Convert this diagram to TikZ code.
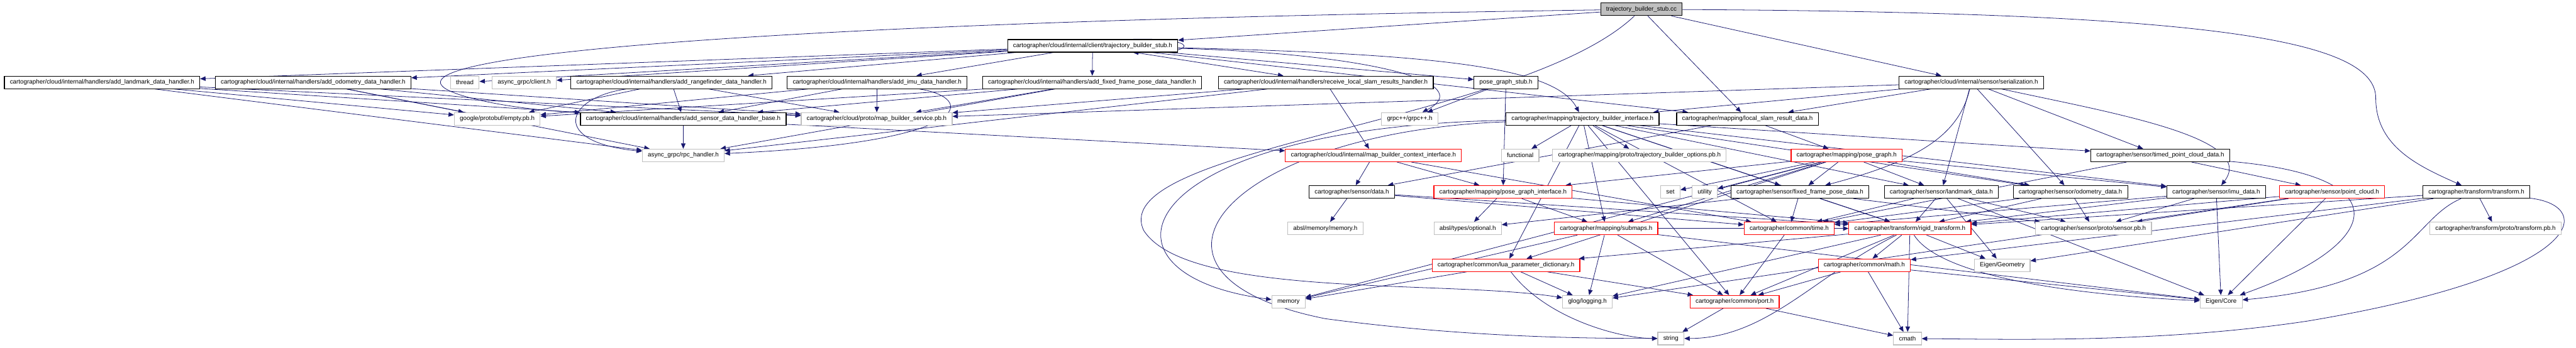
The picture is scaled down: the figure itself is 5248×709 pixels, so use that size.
\documentclass[tikz,border=0pt]{standalone}
\usepackage{fontspec}
\setmainfont{Liberation Sans}
\usetikzlibrary{arrows.meta,calc,backgrounds}
\definecolor{edgeblue}{HTML}{191970}
\definecolor{extgray}{HTML}{BFBFBF}
\tikzset{
  % Base styles
  graph base/.style={
    x=0.5pt, y=-0.5pt,
    every node/.style={font=\fontsize{6.3}{7}\selectfont},
  },
  % File nodes
  file node/.style={rectangle, draw=black, line width=0.75pt, fill=white, inner xsep=5.6pt, inner ysep=0pt, minimum height=12.8pt},
  ext node/.style={file node, draw=extgray},
  trunc node/.style={file node, draw=red},
  root node/.style={file node, fill=extgray},
  % Include edges
  dep/.style={-{Triangle[length=5.5pt,width=4.6pt]}, draw=edgeblue, line width=0.5pt},
}

\begin{document}
\begin{tikzpicture}[graph base]
\useasboundingbox (0,0) rectangle (5248,709);

% Source file
\node[root node] (root) at (3344,19) {trajectory\_builder\_stub.cc};

% Client header
\node[file node] (stubh) at (2226,93.5) {cartographer/cloud/internal/client/trajectory\_builder\_stub.h};

% Handlers layer
\node[file node] (landmarkh) at (208,168) {cartographer/cloud/internal/handlers/add\_landmark\_data\_handler.h};
\node[file node] (odometryh) at (638,168) {cartographer/cloud/internal/handlers/add\_odometry\_data\_handler.h};
\node[ext node] (thread) at (947,168) {thread};
\node[ext node] (client) at (1068,168) {async\_grpc/client.h};
\node[file node] (rangefinderh) at (1368,168) {cartographer/cloud/internal/handlers/add\_rangefinder\_data\_handler.h};
\node[file node] (imuh) at (1787,168) {cartographer/cloud/internal/handlers/add\_imu\_data\_handler.h};
\node[file node] (fixedh) at (2225,168) {cartographer/cloud/internal/handlers/add\_fixed\_frame\_pose\_data\_handler.h};
\node[file node] (receiveh) at (2701,168) {cartographer/cloud/internal/handlers/receive\_local\_slam\_results\_handler.h};
\node[file node] (posestub) at (3068,168) {pose\_graph\_stub.h};
\node[file node] (serial) at (4016,168) {cartographer/cloud/internal/sensor/serialization.h};

% Third layer
\node[ext node] (emptypb) at (1013,242.5) {google/protobuf/empty.pb.h};
\node[file node] (sensorbase) at (1392,242.5) {cartographer/cloud/internal/handlers/add\_sensor\_data\_handler\_base.h};
\node[ext node] (servicepb) at (1786,242.5) {cartographer/cloud/proto/map\_builder\_service.pb.h};
\node[ext node] (grpcpp) at (2872,242.5) {grpc++/grpc++.h};
\node[file node] (tbinterface) at (3224,242.5) {cartographer/mapping/trajectory\_builder\_interface.h};
\node[file node] (localslam) at (3560,242.5) {cartographer/mapping/local\_slam\_result\_data.h};

% Fourth layer
\node[ext node] (rpchandler) at (1392,317) {async\_grpc/rpc\_handler.h};
\node[trunc node] (contextif) at (2798,317) {cartographer/cloud/internal/map\_builder\_context\_interface.h};
\node[ext node] (functional) at (3097,317) {functional};
\node[ext node] (tboptions) at (3340,317) {cartographer/mapping/proto/trajectory\_builder\_options.pb.h};
\node[trunc node] (posegraph) at (3762,317) {cartographer/mapping/pose\_graph.h};
\node[file node] (timedpc) at (4401,317) {cartographer/sensor/timed\_point\_cloud\_data.h};

% Sensor data layer
\node[file node] (data) at (2754,391.5) {cartographer/sensor/data.h};
\node[trunc node] (pginterface) at (3062,391.5) {cartographer/mapping/pose\_graph\_interface.h};
\node[ext node] (stdset) at (3403,391.5) {set};
\node[ext node] (utility) at (3473,391.5) {utility};
\node[file node] (fixedpose) at (3667,391.5) {cartographer/sensor/fixed\_frame\_pose\_data.h};
\node[file node] (landmark) at (3955,391.5) {cartographer/sensor/landmark\_data.h};
\node[file node] (odometry) at (4218,391.5) {cartographer/sensor/odometry\_data.h};
\node[file node] (imu) at (4515,391.5) {cartographer/sensor/imu\_data.h};
\node[trunc node] (pointcloud) at (4751,391.5) {cartographer/sensor/point\_cloud.h};
\node[file node] (transform) at (5045,391.5) {cartographer/transform/transform.h};

% Sixth layer
\node[ext node] (abslmemory) at (2700,466) {absl/memory/memory.h};
\node[ext node] (optional) at (2990,466) {absl/types/optional.h};
\node[trunc node] (submaps) at (3272,466) {cartographer/mapping/submaps.h};
\node[trunc node] (time) at (3645,466) {cartographer/common/time.h};
\node[trunc node] (rigid) at (3891,466) {cartographer/transform/rigid\_transform.h};
\node[ext node] (sensorpb) at (4265,466) {cartographer/sensor/proto/sensor.pb.h};
\node[ext node] (transformpb) at (5084,466) {cartographer/transform/proto/transform.pb.h};

% Common layer
\node[trunc node] (lua) at (3068,541) {cartographer/common/lua\_parameter\_dictionary.h};
\node[trunc node] (math) at (3798,541) {cartographer/common/math.h};
\node[ext node] (geometry) at (4079,541) {Eigen/Geometry};

% System headers
\node[ext node] (memory) at (2625,615.5) {memory};
\node[ext node] (glog) at (3234,615.5) {glog/logging.h};
\node[trunc node] (port) at (3534,615.5) {cartographer/common/port.h};
\node[ext node] (eigencore) at (4525,615.5) {Eigen/Core};
\node[ext node] (string) at (3404,690.5) {string};
\node[ext node] (cmath) at (3886,690.5) {cmath};

\begin{scope}[on background layer]
\fill[white] (0,0) rectangle (5248,709);

% Edges from the source file
\draw[dep] (root) -- (stubh);
\draw[dep] (root) .. controls (1500,45) and (650,120) .. (960,200) .. controls (1150,250) and (1450,228) .. (servicepb);
\draw[dep] (root) .. controls (3100,250) and (2250,300) .. (2330,470) .. controls (2420,610) and (2950,570) .. (glog);
\draw[dep] (root) -- (localslam);
\draw[dep] (root) -- (serial);
\draw[dep] (root) .. controls (4500,25) and (4840,80) .. (4840,200) .. controls (4840,300) and (4930,340) .. (transform);

% Edges from the client header
\draw[dep] (stubh) -- (landmarkh);
\draw[dep] (stubh) -- (odometryh);
\draw[dep] (stubh) -- (thread);
\draw[dep] (stubh) -- (client);
\draw[dep] (stubh) -- (rangefinderh);
\draw[dep] (stubh) -- (imuh);
\draw[dep] (stubh) -- (fixedh);
\draw[dep] (stubh) -- (receiveh);
\draw[dep] (stubh) -- (posestub);
\draw[dep] (stubh) -- (localslam);
\draw[dep] (stubh) .. controls (2800,110) and (3010,170) .. (grpcpp);
\draw[dep] (stubh) .. controls (2950,110) and (3170,140) .. (tbinterface);
\draw[dep] ([xshift=-46pt]stubh.north east) .. controls (2440,76) and (2450,110) .. ([xshift=-46pt]stubh.south east);

% Edges from the handlers
\draw[dep] (landmarkh) -- (emptypb);
\draw[dep] (landmarkh) -- (sensorbase);
\draw[dep] (landmarkh) -- (servicepb);
\draw[dep] (landmarkh) -- (rpchandler);
\draw[dep] (odometryh) -- (emptypb);
\draw[dep] (odometryh) -- (sensorbase);
\draw[dep] (odometryh) -- (servicepb);
\draw[dep] (odometryh) -- (rpchandler);
\draw[dep] (rangefinderh) -- (emptypb);
\draw[dep] (rangefinderh) -- (sensorbase);
\draw[dep] (rangefinderh) -- (servicepb);
\draw[dep] (rangefinderh) .. controls (1150,200) and (1120,290) .. (rpchandler);
\draw[dep] (imuh) -- (emptypb);
\draw[dep] (imuh) -- (sensorbase);
\draw[dep] (imuh) -- (servicepb);
\draw[dep] (imuh) .. controls (1990,200) and (1990,290) .. (rpchandler);
\draw[dep] (fixedh) -- (emptypb);
\draw[dep] (fixedh) -- (sensorbase);
\draw[dep] (fixedh) -- (servicepb);
\draw[dep] (fixedh) -- (rpchandler);
\draw[dep] (receiveh) -- (contextif);
\draw[dep] (receiveh) -- (servicepb);
\draw[dep] (receiveh) -- (rpchandler);
\draw[dep] (sensorbase) -- (rpchandler);
\draw[dep] (sensorbase) -- (contextif);
\draw[dep] (posestub) -- (grpcpp);
\draw[dep] (posestub) -- (pginterface);

% Edges from serialization
\draw[dep] (serial) -- (servicepb);
\draw[dep] (serial) -- (tbinterface);
\draw[dep] (serial) -- (localslam);
\draw[dep] (serial) .. controls (3990,280) and (3900,330) .. (fixedpose);
\draw[dep] (serial) -- (landmark);
\draw[dep] (serial) -- (odometry);
\draw[dep] (serial) .. controls (4300,230) and (4600,280) .. (imu);
\draw[dep] (serial) -- (timedpc);

% Edges from the mapping interfaces
\draw[dep] (tbinterface) -- (functional);
\draw[dep] (tbinterface) -- (tboptions);
\draw[dep] (tbinterface) .. controls (2300,260) and (2200,560) .. (memory);
\draw[dep] (tbinterface) .. controls (2500,270) and (2250,560) .. (2700,650) .. controls (3000,690) and (3250,690) .. (string);
\draw[dep] (tbinterface) -- (port);
\draw[dep] (tbinterface) -- (submaps);
\draw[dep] (tbinterface) -- (fixedpose);
\draw[dep] (tbinterface) -- (imu);
\draw[dep] (tbinterface) -- (landmark);
\draw[dep] (tbinterface) -- (odometry);
\draw[dep] (tbinterface) -- (timedpc);
\draw[dep] (tbinterface) -- (lua);
\draw[dep] (tbinterface) -- (rigid);
\draw[dep] (tbinterface) -- (time);
\draw[dep] (localslam) -- (posegraph);
\draw[dep] (localslam) -- (data);
\draw[dep] (contextif) -- (data);
\draw[dep] (contextif) -- (pginterface);
\draw[dep] (contextif) -- (time);
\draw[dep] (posegraph) -- (memory);
\draw[dep] (posegraph) -- (stdset);
\draw[dep] (posegraph) -- (utility);
\draw[dep] (posegraph) -- (lua);
\draw[dep] (posegraph) -- (pginterface);
\draw[dep] (posegraph) -- (submaps);
\draw[dep] (posegraph) -- (fixedpose);
\draw[dep] (posegraph) -- (imu);
\draw[dep] (posegraph) -- (landmark);
\draw[dep] (posegraph) -- (odometry);
\draw[dep] (pginterface) -- (optional);
\draw[dep] (pginterface) -- (submaps);
\draw[dep] (pginterface) -- (rigid);
\draw[dep] (data) -- (abslmemory);
\draw[dep] (data) -- (time);
\draw[dep] (data) -- (rigid);
\draw[dep] (submaps) -- (memory);
\draw[dep] (submaps) -- (glog);
\draw[dep] (submaps) -- (port);
\draw[dep] (submaps) -- (rigid);
\draw[dep] (submaps) -- (eigencore);

% Edges from the sensor data
\draw[dep] (timedpc) -- (pointcloud);
\draw[dep] (timedpc) -- (time);
\draw[dep] (timedpc) .. controls (4900,360) and (4850,500) .. (eigencore);
\draw[dep] (fixedpose) -- (optional);
\draw[dep] (fixedpose) -- (time);
\draw[dep] (fixedpose) -- (rigid);
\draw[dep] (fixedpose) -- (sensorpb);
\draw[dep] (landmark) -- (time);
\draw[dep] (landmark) -- (rigid);
\draw[dep] (landmark) -- (geometry);
\draw[dep] (landmark) -- (eigencore);
\draw[dep] (landmark) -- (sensorpb);
\draw[dep] (odometry) -- (time);
\draw[dep] (odometry) -- (rigid);
\draw[dep] (odometry) -- (sensorpb);
\draw[dep] (imu) -- (time);
\draw[dep] (imu) -- (rigid);
\draw[dep] (imu) -- (sensorpb);
\draw[dep] (imu) -- (eigencore);
\draw[dep] (pointcloud) -- (eigencore);
\draw[dep] (pointcloud) -- (rigid);
\draw[dep] (pointcloud) -- (sensorpb);
\draw[dep] (pointcloud) -- (glog);

% Edges from the transforms
\draw[dep] (transform) -- (transformpb);
\draw[dep] (transform) -- (rigid);
\draw[dep] (transform) -- (geometry);
\draw[dep] (transform) -- (math);
\draw[dep] (transform) .. controls (4910,450) and (4920,580) .. (eigencore);
\draw[dep] (transform) .. controls (5290,420) and (5270,560) .. (4700,655) .. controls (4400,700) and (4100,692) .. (cmath);
\draw[dep] (rigid) -- (math);
\draw[dep] (rigid) -- (cmath);
\draw[dep] (rigid) -- (geometry);
\draw[dep] (rigid) .. controls (3950,560) and (4200,600) .. (eigencore);
\draw[dep] (rigid) -- (port);
\draw[dep] (rigid) -- (glog);
\draw[dep] (rigid) .. controls (3700,560) and (3600,690) .. (string);
\draw[dep] (rigid) -- (lua);

% Edges from the common headers
\draw[dep] (lua) -- (memory);
\draw[dep] (lua) -- (glog);
\draw[dep] (lua) -- (port);
\draw[dep] (lua) .. controls (3150,650) and (3300,690) .. (string);
\draw[dep] (math) -- (cmath);
\draw[dep] (math) -- (eigencore);
\draw[dep] (math) -- (port);
\draw[dep] (time) -- (port);
\draw[dep] (port) -- (string);
\draw[dep] (port) -- (cmath);
\end{scope}
\end{tikzpicture}
\end{document}
